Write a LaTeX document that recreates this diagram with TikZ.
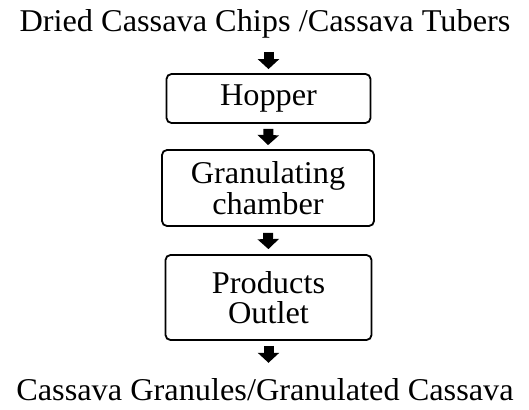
\documentclass[tikz,border=0pt]{standalone}
\usepackage{fontspec}
\setmainfont[FakeStretch=1.02]{Liberation Serif}
\usetikzlibrary{arrows.meta}
\tikzset{
  txt/.style={inner sep=0pt, anchor=base, font=\fontsize{31.7}{30}\selectfont},
  procbox/.style={draw, line width=1.8pt, rounded corners=5pt, inner sep=0pt,
    align=center, font=\fontsize{31.7}{30.5}\selectfont},
  flowarrow/.style={line width=10pt, -{Triangle[width=21pt,length=10pt]}}
}
\begin{document}
\begin{tikzpicture}[x=1pt,y=-1pt]
\useasboundingbox (0,0) rectangle (529,409);
\node[txt] (src) at (265,32) {Dried Cassava Chips /Cassava Tubers};
\node[procbox, minimum width=204pt, minimum height=49pt] (hop) at (268.5,98.5) {Hopper};
\node[procbox, minimum width=212pt, minimum height=76pt] (gran) at (268,188) {Granulating\\chamber};
\node[procbox, minimum width=206pt, minimum height=85pt] (prod) at (268.5,297.5) {Products\\Outlet};
\node[txt] (out) at (265,400) {Cassava Granules/Granulated Cassava};
\draw[flowarrow, shorten <=13pt, shorten >=4pt] (src.south -| hop.north) -- (hop.north);
\draw[flowarrow, shorten <=5pt, shorten >=4pt] (hop.south) -- (gran.north);
\draw[flowarrow, shorten <=6pt, shorten >=5pt] (gran.south) -- (prod.north);
\draw[flowarrow, shorten <=5pt, shorten >=15pt] (prod.south) -- (prod.south |- out.north);
\end{tikzpicture}
\end{document}
